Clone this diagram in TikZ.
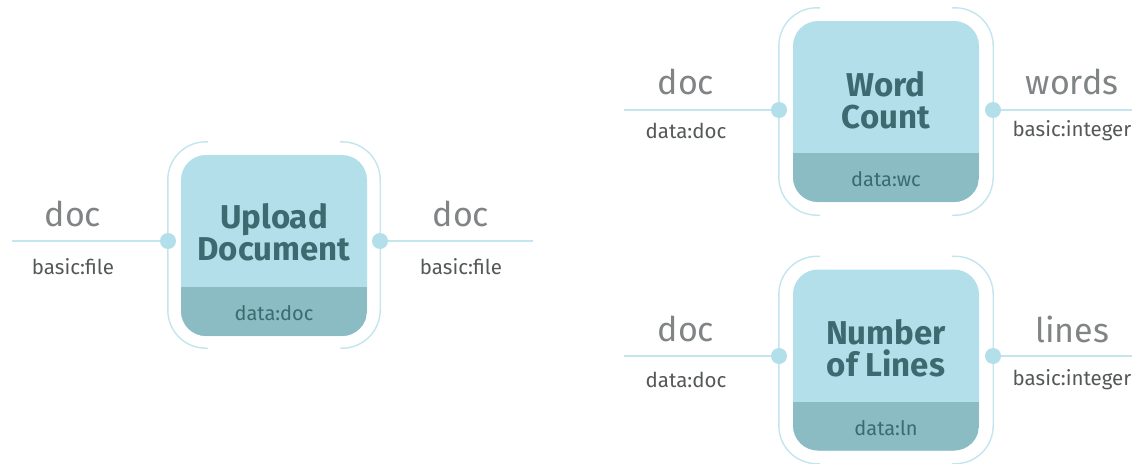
\documentclass[tikz,border=0pt]{standalone}
\usepackage{fontspec}
\setmainfont{Fira Sans}
\usepackage{tikz}

\definecolor{boxblue}{HTML}{B2DFEA}
\definecolor{bandblue}{HTML}{8BBCC3}
\definecolor{wireblue}{HTML}{C3E5EE}
\definecolor{titleteal}{HTML}{3C6A70}
\definecolor{namegray}{HTML}{808485}
\definecolor{typegray}{HTML}{555859}

\begin{document}
\begin{tikzpicture}[x=1pt, y=1pt,
    proc/.style={fill=boxblue, rounded corners=25pt, minimum width=186pt, minimum height=181pt, inner sep=0pt,
        path picture={\fill[bandblue, sharp corners] ([yshift=49pt]path picture bounding box.south west) rectangle (path picture bounding box.south east);}},
    title/.style={align=center, text=titleteal, font=\fontsize{33}{32}\selectfont\bfseries},
    band/.style={text=titleteal, font=\fontsize{20}{22}\selectfont},
    port/.style={circle, fill=boxblue, minimum size=16pt, inner sep=0pt},
    wire/.style={wireblue, line width=1.6pt},
    bracket/.style={wireblue, line width=1.4pt, rounded corners=38pt},
    pname/.style={text=namegray, font=\fontsize{34}{34}\selectfont},
    ptype/.style={text=typegray, font=\fontsize{20.5}{22}\selectfont}]
    \useasboundingbox (0,0) rectangle (1132,-463);

    % upload document
    \node[proc] (upload) at (274,-245.5) {};
    \node[title] (upload title) at ([yshift=13pt]upload.center) {Upload\\Document};
    \node[band] (upload band) at ([yshift=23pt]upload.south) {data:doc};
    \draw[bracket] ([xshift=27pt,yshift=13pt]upload.north west) -| ([xshift=-13pt]upload.west) |- ([xshift=27pt,yshift=-12pt]upload.south west);
    \draw[bracket] ([xshift=-27pt,yshift=13pt]upload.north east) -| ([xshift=13pt]upload.east) |- ([xshift=-27pt,yshift=-12pt]upload.south east);
    \node[port] (upload in) at (168,-241) {};
    \node[port] (upload out) at (380,-241) {};
    \coordinate (upload l) at (12,-241);
    \coordinate (upload r) at (533,-241);
    \draw[wire] (upload l) -- (upload in);
    \draw[wire] (upload out) -- (upload r);
    \node[pname] (upload in name) at (73,-214) {doc};
    \node[ptype] (upload in type) at (73,-267) {basic:file};
    \node[pname] (upload out name) at (461,-214) {doc};
    \node[ptype] (upload out type) at (461,-267) {basic:file};

    % word count
    \node[proc] (count) at (886,-111.5) {};
    \node[title] (count title) at ([yshift=11pt]count.center) {Word\\Count};
    \node[band] (count band) at ([yshift=23pt]count.south) {data:wc};
    \draw[bracket] ([xshift=27pt,yshift=13pt]count.north west) -| ([xshift=-14pt]count.west) |- ([xshift=27pt,yshift=-13pt]count.south west);
    \draw[bracket] ([xshift=-27pt,yshift=13pt]count.north east) -| ([xshift=14pt]count.east) |- ([xshift=-27pt,yshift=-13pt]count.south east);
    \node[port] (count in) at (779,-110) {};
    \node[port] (count out) at (993,-110) {};
    \coordinate (count l) at (624,-110);
    \coordinate (count r) at (1132,-110);
    \draw[wire] (count l) -- (count in);
    \draw[wire] (count out) -- (count r);
    \node[pname] (count in name) at (686,-82) {doc};
    \node[ptype] (count in type) at (686,-131) {data:doc};
    \node[pname] (count out name) at (1072,-82) {words};
    \node[ptype] (count out type) at (1072,-131) {basic:integer};

    % number of lines
    \node[proc] (lines) at (886,-360) {};
    \node[title] (lines title) at ([yshift=12pt]lines.center) {Number\\of Lines};
    \node[band] (lines band) at ([yshift=23pt]lines.south) {data:ln};
    \draw[bracket] ([xshift=27pt,yshift=13pt]lines.north west) -| ([xshift=-14pt]lines.west) |- ([xshift=27pt,yshift=-13pt]lines.south west);
    \draw[bracket] ([xshift=-27pt,yshift=13pt]lines.north east) -| ([xshift=14pt]lines.east) |- ([xshift=-27pt,yshift=-13pt]lines.south east);
    \node[port] (lines in) at (779,-356) {};
    \node[port] (lines out) at (993,-356) {};
    \coordinate (lines l) at (624,-356);
    \coordinate (lines r) at (1132,-356);
    \draw[wire] (lines l) -- (lines in);
    \draw[wire] (lines out) -- (lines r);
    \node[pname] (lines in name) at (686,-329) {doc};
    \node[ptype] (lines in type) at (686,-380) {data:doc};
    \node[pname] (lines out name) at (1072,-329) {lines};
    \node[ptype] (lines out type) at (1072,-380) {basic:integer};
\end{tikzpicture}
\end{document}
